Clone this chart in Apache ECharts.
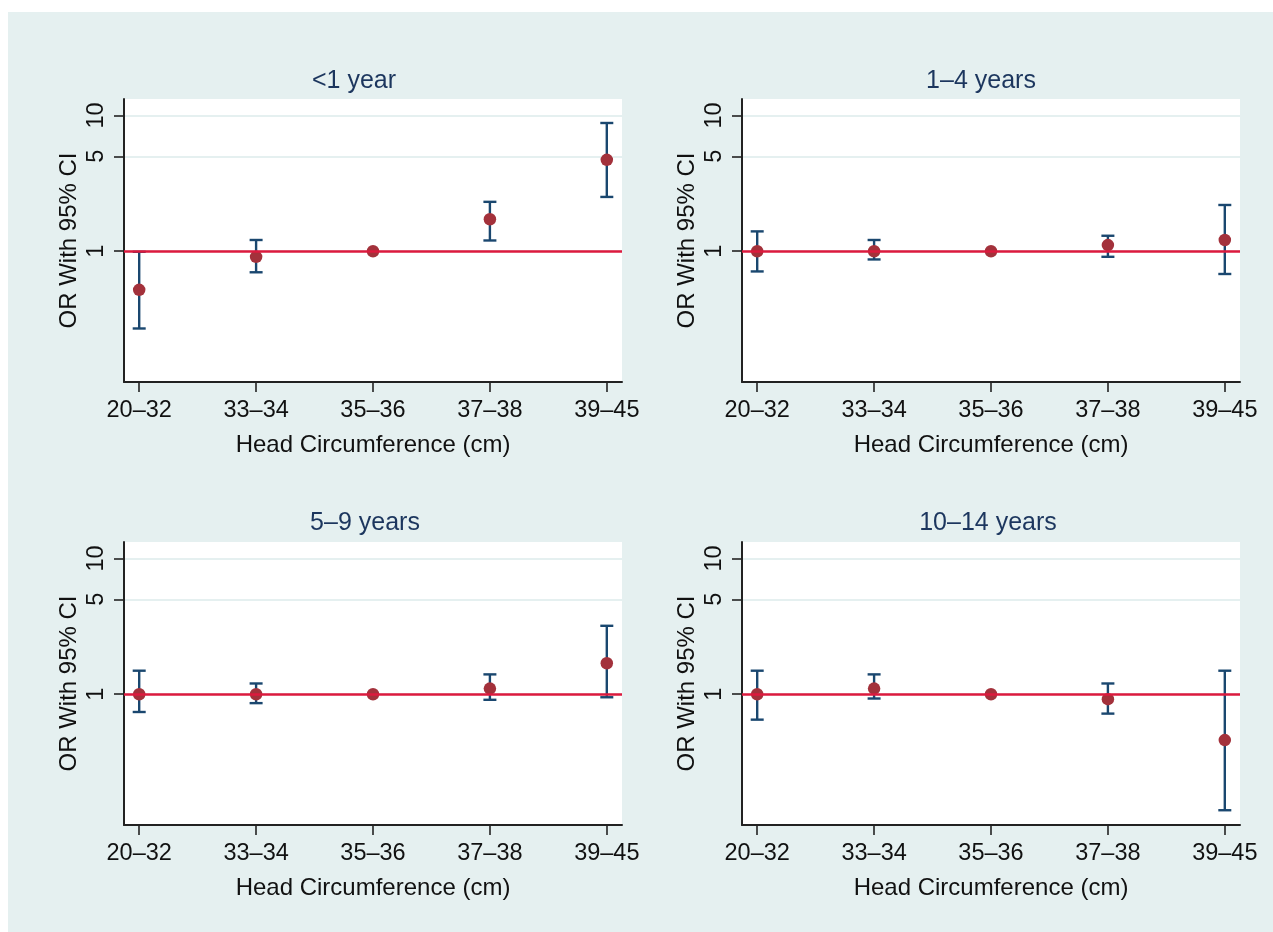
<!DOCTYPE html>
<html>
<head>
<meta charset="utf-8">
<script src="https://cdn.jsdelivr.net/npm/echarts@6/dist/echarts.min.js"></script>
<style>
html, body { margin: 0; padding: 0; background: #fff; }
#bg { position: absolute; left: 8px; top: 12px; width: 1265px; height: 920px; background: #e5f0f0; }
#chart { position: absolute; left: 0; top: 0; width: 1273px; height: 932px; }
</style>
</head>
<body>
<div id="bg"></div>
<div id="chart"></div>
<script>
var categories = ['20–32', '33–34', '35–36', '37–38', '39–45'];
var panelTitles = ['<1 year', '1–4 years', '5–9 years', '10–14 years'];
var yTicks = [1, 5, 10];
var yMin = 0.109, yMax = 13.2;

// odds ratio + 95% CI, 35–36 cm is the reference group
var orUnder1 = [0.52, 0.91, 1, 1.72, 4.71];
var loUnder1 = [0.27, 0.70, null, 1.20, 2.51];
var hiUnder1 = [0.99, 1.21, null, 2.31, 8.79];

var or1to4 = [1.00, 1.00, 1, 1.11, 1.21];
var lo1to4 = [0.71, 0.87, null, 0.91, 0.68];
var hi1to4 = [1.40, 1.21, null, 1.30, 2.19];

var or5to9 = [1.00, 1.00, 1, 1.10, 1.69];
var lo5to9 = [0.74, 0.86, null, 0.91, 0.95];
var hi5to9 = [1.49, 1.20, null, 1.40, 3.19];

var or10to14 = [1.00, 1.10, 1, 0.92, 0.46];
var lo10to14 = [0.65, 0.93, null, 0.72, 0.14];
var hi10to14 = [1.49, 1.40, null, 1.20, 1.49];

var panels = [
    { or: orUnder1, lo: loUnder1, hi: hiUnder1 },
    { or: or1to4, lo: lo1to4, hi: hi1to4 },
    { or: or5to9, lo: lo5to9, hi: hi5to9 },
    { or: or10to14, lo: lo10to14, hi: hi10to14 }
];

var chart = echarts.init(document.getElementById('chart'));
var font = '"Liberation Sans", Arial, sans-serif';
var gridLeft = [124, 742, 124, 742];
var gridTop = [99, 99, 542, 542];
var titleX = [354, 981, 365, 988];
var titleY = [81, 81, 523, 523];

function renderBar(params, api) {
    var x = api.value(0);
    var lo = api.coord([x, api.value(1)]);
    var hi = api.coord([x, api.value(2)]);
    var w = 6.5;
    var st = { stroke: '#1a476f', lineWidth: 2.4 };
    return {
        type: 'group',
        children: [
            { type: 'line', shape: { x1: lo[0], y1: lo[1], x2: hi[0], y2: hi[1] }, style: st },
            { type: 'line', shape: { x1: lo[0] - w, y1: lo[1], x2: lo[0] + w, y2: lo[1] }, style: st },
            { type: 'line', shape: { x1: hi[0] - w, y1: hi[1], x2: hi[0] + w, y2: hi[1] }, style: st }
        ]
    };
}

var grid = [], xAxis = [], yAxis = [], series = [], graphic = [];

panels.forEach(function (p, k) {
    grid.push({
        left: gridLeft[k], top: gridTop[k], width: 498, height: 283,
        show: true, backgroundColor: '#fff', borderWidth: 0,
        containLabel: false, outerBoundsMode: 'none'
    });
    xAxis.push({
        type: 'value', gridIndex: k, min: -0.13, max: 4.13, position: 'bottom',
        name: 'Head Circumference (cm)', nameLocation: 'middle', nameGap: 51,
        nameTextStyle: { fontFamily: font, fontSize: 24, color: '#111' },
        axisLine: { onZero: false, lineStyle: { color: '#222', width: 2 } },
        axisTick: { length: 10, lineStyle: { color: '#222', width: 1.6 }, customValues: [0, 1, 2, 3, 4] },
        axisLabel: {
            customValues: [0, 1, 2, 3, 4], margin: 17,
            fontFamily: font, fontSize: 23.5, color: '#111',
            formatter: function (v) { return categories[Math.round(v)]; }
        },
        splitLine: { show: false }
    });
    // log axis that carries the data
    yAxis.push({
        type: 'log', gridIndex: k, min: yMin, max: yMax, position: 'left', show: false
    });
    // visible axis for the 1 / 5 / 10 ticks
    yAxis.push({
        type: 'value', gridIndex: k, position: 'left', offset: 0,
        min: Math.log10(yMin), max: Math.log10(yMax),
        name: 'OR With 95% CI', nameLocation: 'middle', nameGap: 43,
        nameTextStyle: { fontFamily: font, fontSize: 24, color: '#111' },
        axisLine: { show: true, onZero: false, lineStyle: { color: '#222', width: 2 } },
        axisTick: { show: true, length: 10, lineStyle: { color: '#222', width: 1.6 }, customValues: yTicks.map(Math.log10) },
        axisLabel: {
            customValues: yTicks.map(Math.log10), rotate: 90, margin: 15,
            fontFamily: font, fontSize: 23.5, color: '#111',
            formatter: function (v) { return String(Math.round(Math.pow(10, v))); }
        },
        splitLine: { show: true, lineStyle: { color: '#e5f0f0', width: 2 } }
    });

    var points = [], bars = [];
    p.or.forEach(function (v, i) {
        points.push([i, v]);
        if (p.lo[i] != null) bars.push([i, p.lo[i], p.hi[i]]);
    });

    series.push({
        type: 'custom', xAxisIndex: k, yAxisIndex: 2 * k,
        renderItem: renderBar, data: bars, encode: { x: 0, y: [1, 2] }, z: 3,
        markLine: {
            silent: true, symbol: 'none', label: { show: false },
            lineStyle: { color: '#dc1a3e', width: 2.5, type: 'solid' },
            data: [{ yAxis: 1 }]
        }
    });
    series.push({
        type: 'scatter', xAxisIndex: k, yAxisIndex: 2 * k,
        data: points, symbolSize: 12.5, z: 4,
        itemStyle: { color: '#a3313b', opacity: 1 }
    });

    graphic.push({
        type: 'text', x: titleX[k], y: titleY[k],
        style: {
            text: panelTitles[k], fontFamily: font, fontSize: 25,
            fill: '#1c365e', textAlign: 'center', textVerticalAlign: 'middle'
        }
    });
});

chart.setOption({
    animation: false,
    grid: grid,
    xAxis: xAxis,
    yAxis: yAxis,
    series: series,
    graphic: graphic
});
</script>
</body>
</html>
